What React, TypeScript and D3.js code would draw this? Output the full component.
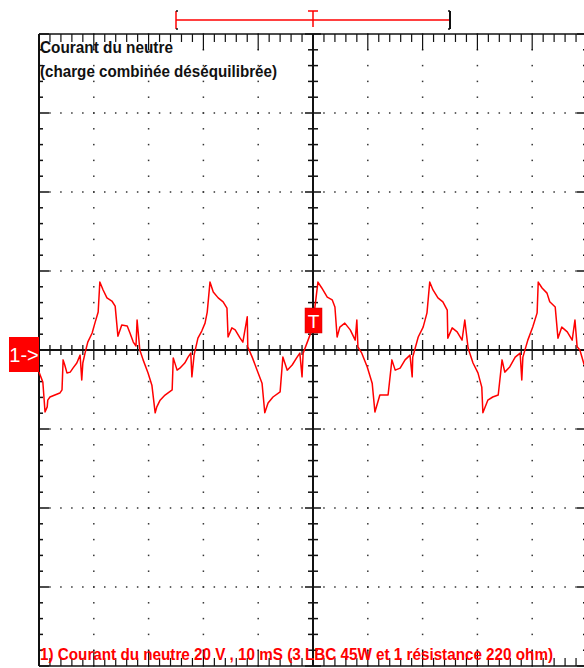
import * as d3 from "d3"

// channel 1 trace: time (ms from left edge), value (V)
const timeMs = [
  0, 0.7, 1.1, 1.5, 1.6, 2.0, 2.9, 3.8, 4.2, 4.4, 4.7, 5.1, 5.7, 6.2, 6.9, 7.5, 7.8, 8.0, 8.4, 8.9,
  9.7, 10.2, 10.8, 11.1, 11.7, 12.4, 13.3, 13.9, 14.4, 15.1, 16.1, 16.6, 17.2, 17.7, 17.9, 18.4, 19.0, 19.9, 20.6, 21.2,
  21.5, 22.1, 23.0, 24.3, 24.5, 25.2, 25.7, 26.6, 27.2, 27.7, 27.9, 28.3, 29.0, 29.7, 30.3, 30.7, 31.2,
  31.8, 32.7, 33.6, 34.3, 34.5, 35.2, 35.8, 36.7, 37.2, 38.0, 38.1, 38.9, 39.8, 40.7, 41.2, 41.8, 42.7, 44.0,
  44.5, 45.3, 46.2, 47.1, 47.6, 48.0, 48.2, 49.1, 49.8, 50.4, 50.9,
  51.6, 52.6, 53.5, 54.0, 54.4, 54.9, 55.8, 56.8, 57.7, 58.0, 58.2, 58.9, 59.9, 60.8, 61.3, 62.2, 63.7, 64.4,
  65.0, 65.9, 66.8, 67.7, 68.1, 68.2, 69.2, 70.1, 70.8, 71.3,
  71.9, 72.8, 73.7, 74.5, 74.6, 75.4, 76.3, 77.2, 77.7, 78.3, 79.2, 80.1, 80.8, 81.0, 81.9, 82.8, 83.8, 84.5,
  85.0, 85.9, 86.9, 87.8, 88.1, 88.3, 89.2, 90.1, 90.9, 91.1,
  91.8, 92.7, 93.2, 94.2, 94.7, 95.4, 96.4, 97.3, 97.8, 98.2, 98.7, 99.5,
]
const currentV = [
  -5.6, -8.1, -15.7, -14.4, -12.7, -11.9, -11.4, -10.9, -10.1, -2.5, -3.8, -5.8, -5.6, -4.6, -3.3, -1.3, -7.6, -3.3, -0.8, 2.0,
  4.3, 6.8, 9.6, 17.2, 15.2, 13.2, 12.4, 11.1, 3.5, 6.3, 6.1, 4.3, 2.0, 1.0, 7.6, 0, -2.5, -5.8, -8.9, -15.9,
  -14.4, -12.7, -11.4, -10.1, -2.0, -5.1, -4.6, -3.3, -1.8, -0.8, -6.8, -1.3, 3.0, 4.8, 6.8, 9.6, 17.2,
  14.7, 13.2, 12.2, 10.6, 3.3, 5.6, 5.1, 3.0, 2.0, 8.4, 0.8, -1.8, -5.1, -8.4, -15.9, -13.4, -11.9, -10.6,
  -1.8, -5.1, -3.8, -1.8, -0.8, -6.8, -0.8, 2.5, 5.1, 11.4, 17.2,
  15.7, 13.4, 12.7, 10.9, 3.3, 5.8, 6.8, 5.1, 2.5, 7.6, 0.8, -0.8, -4.3, -8.4, -15.7, -11.4, -11.4, -2.5,
  -5.1, -4.6, -2.5, -1.3, -6.8, -1.8, 3.3, 5.8, 9.4, 17.2,
  15.2, 13.2, 12.2, 10.1, 3.0, 5.6, 4.6, 2.5, 7.6, 0.5, -3.3, -5.8, -9.4, -15.9, -12.7, -11.9, -11.4, -2.5,
  -5.6, -4.3, -1.8, -0.8, -7.6, -1.8, 2.5, 5.8, 9.4, 17.2,
  15.7, 14.4, 12.2, 10.9, 3.0, 5.8, 4.6, 2.5, 7.6, 0.8, 0, -3.8,
]

const titleLines = ["Courant du neutre", "(charge combinée déséquilibrée)"]
const caption = "1) Courant du neutre 20  V ,  10 mS (3 LBC 45W et 1 résistance 220 ohm)"
const channelLabel = "1->"
const triggerLabel = "T"
const windowMs = [25, 75]
const triggerMs = 50

const RED = "#ff0000"
const INK = "#111"

export default function App() {
  const width = 584
  const height = 668

  // 10 ms/div over 10 div, 20 V/div over 8 div
  const x = d3.scaleLinear().domain([0, 100]).range([39, 587])
  const y = d3.scaleLinear().domain([-80, 80]).range([666, 34])

  const xMinor = d3.range(0, 100.001, 2)
  const yMinor = d3.range(-80, 80.001, 4)
  const isXMajor = (t: number) => Math.abs(t % 10) < 1e-6
  const isYMajor = (v: number) => Math.abs(v % 20) < 1e-6

  const line = d3
    .line<number>()
    .x((_, i) => x(timeMs[i]))
    .y((d) => y(d))

  const x0 = x(0)
  const x1 = x(100)
  const yTop = y(80)
  const yBot = y(-80)
  const cx = x(triggerMs)
  const cy = y(0)

  const dots: JSX.Element[] = []
  // dotted rows on major volt lines
  d3.range(-60, 61, 20)
    .filter((v) => v !== 0)
    .forEach((v) =>
      xMinor.forEach((t) =>
        dots.push(<rect key={`r${v}_${t}`} x={x(t) - 0.75} y={y(v) - 0.75} width={1.5} height={1.5} fill="#333" />),
      ),
    )
  // dotted columns on major time lines
  d3.range(10, 91, 10)
    .filter((t) => t !== triggerMs)
    .forEach((t) =>
      yMinor.forEach((v) =>
        dots.push(<rect key={`c${t}_${v}`} x={x(t) - 0.75} y={y(v) - 0.75} width={1.5} height={1.5} fill="#333" />),
      ),
    )

  return (
    <svg
      width={width}
      height={height}
      style={{ position: "absolute", left: 0, top: 0, background: "#fff" }}
      fontFamily="'Liberation Sans', Arial, sans-serif"
    >
      <rect width={width} height={height} fill="#fff" />

      {dots}

      {/* frame */}
      <g stroke={INK} fill="none">
        <line x1={x0} x2={x0} y1={yTop} y2={yBot} strokeWidth={2} />
        <line x1={x0} x2={x1} y1={yTop} y2={yTop} strokeWidth={1.5} />
        <line x1={x0} x2={x1} y1={yBot} y2={yBot} strokeWidth={1.5} />
        <line x1={x1} x2={x1} y1={yTop} y2={yBot} strokeWidth={1.5} />
        {xMinor.map((t) => {
          const len = isXMajor(t) ? 16 : 8
          return (
            <g key={`bt${t}`} strokeWidth={1.2}>
              <line x1={x(t)} x2={x(t)} y1={yTop} y2={yTop + len} />
              <line x1={x(t)} x2={x(t)} y1={yBot} y2={yBot - len} />
            </g>
          )
        })}
        {yMinor.map((v) => {
          const len = isYMajor(v) ? 10 : 4
          return (
            <g key={`bl${v}`} strokeWidth={1.5}>
              <line x1={x0} x2={x0 + len} y1={y(v)} y2={y(v)} />
              <line x1={x1} x2={x1 - len} y1={y(v)} y2={y(v)} />
            </g>
          )
        })}
      </g>

      {/* center axes */}
      <g stroke={INK} fill="none">
        <line x1={x0} x2={x1} y1={cy} y2={cy} strokeWidth={2} />
        <line x1={cx} x2={cx} y1={yTop} y2={yBot} strokeWidth={2} />
        {xMinor.map((t) => {
          const len = isXMajor(t) ? 10 : 5
          return <line key={`hx${t}`} x1={x(t)} x2={x(t)} y1={cy - len} y2={cy + len} strokeWidth={1.3} />
        })}
        {yMinor.map((v) => {
          const len = isYMajor(v) ? 8 : 5
          return <line key={`vy${v}`} x1={cx - len} x2={cx + len} y1={y(v)} y2={y(v)} strokeWidth={1.5} />
        })}
      </g>

      {/* trace */}
      <path d={line(currentV) ?? ""} fill="none" stroke={RED} strokeWidth={1.5} strokeLinejoin="round" />

      {/* acquisition window bracket and trigger position */}
      <g fill="none">
        <line x1={x(windowMs[0])} x2={x(windowMs[1])} y1={20} y2={20} stroke={RED} strokeWidth={1.5} />
        <line x1={x(windowMs[0])} x2={x(windowMs[0])} y1={11} y2={29} stroke={RED} strokeWidth={1.5} />
        <line x1={x(windowMs[0])} x2={x(windowMs[0]) + 2} y1={11} y2={11} stroke={INK} strokeWidth={1.5} />
        <line x1={x(windowMs[0])} x2={x(windowMs[0]) + 2} y1={29} y2={29} stroke={INK} strokeWidth={1.5} />
        <line x1={x(windowMs[1])} x2={x(windowMs[1])} y1={11} y2={29} stroke={INK} strokeWidth={2} />
        <line x1={x(windowMs[1]) - 2} x2={x(windowMs[1])} y1={11} y2={11} stroke={INK} strokeWidth={1.5} />
        <line x1={x(windowMs[1]) - 2} x2={x(windowMs[1])} y1={29} y2={29} stroke={INK} strokeWidth={1.5} />
        <line x1={cx} x2={cx} y1={11} y2={27} stroke={RED} strokeWidth={1.5} />
        <line x1={cx - 5} x2={cx + 5} y1={11} y2={11} stroke={RED} strokeWidth={1.5} />
      </g>

      {/* channel marker */}
      <rect x={9} y={337} width={x0 - 9} height={35} fill={RED} />
      <text x={24} y={362} fill="#fff" fontSize={20} textAnchor="middle">
        {channelLabel}
      </text>

      {/* trigger marker */}
      <rect x={cx - 8} y={308} width={17} height={25} fill={RED} stroke="#c00" strokeWidth={0.5} />
      <text x={cx + 0.5} y={328} fill="#fff" fontSize={19} textAnchor="middle">
        {triggerLabel}
      </text>

      {/* titles */}
      {titleLines.map((s, i) => (
        <text
          key={s}
          x={40}
          y={53 + i * 24}
          fill={INK}
          fontSize={17}
          fontWeight="bold"
          textLength={i === 0 ? 133 : 237}
          lengthAdjust="spacingAndGlyphs"
        >
          {s}
        </text>
      ))}

      <text x={40} y={660} fill={RED} fontSize={16} fontWeight="bold" textLength={513} lengthAdjust="spacingAndGlyphs">
        {caption}
      </text>
    </svg>
  )
}
